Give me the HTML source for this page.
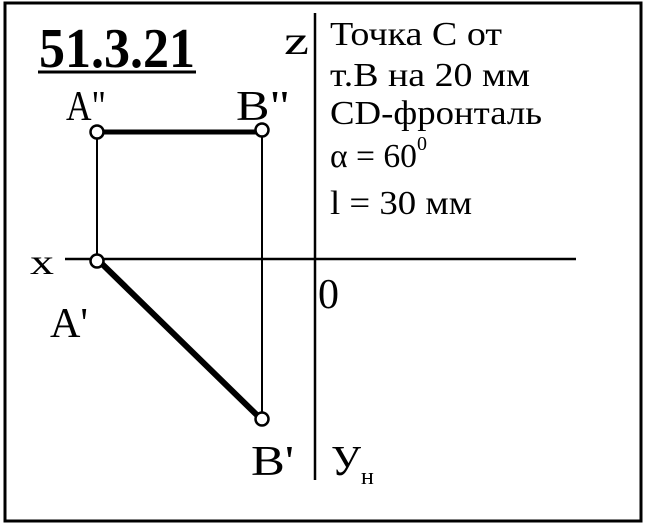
<!DOCTYPE html>
<html><head><meta charset="utf-8"><style>html,body{margin:0;padding:0;background:#fff}svg{display:block}text{font-family:"Liberation Serif","Times New Roman",serif}</style></head>
<body>
<svg width="647" height="528" viewBox="0 0 647 528" xmlns="http://www.w3.org/2000/svg" fill="#000">
<rect x="5" y="3" width="636" height="518" fill="none" stroke="#000" stroke-width="3"/>
<text x="39" y="67" font-size="56" font-weight="bold" textLength="156" lengthAdjust="spacingAndGlyphs">51.3.21</text>
<line x1="38" y1="72" x2="196" y2="72" stroke="#000" stroke-width="3"/>
<text x="284" y="54" font-size="40" textLength="25" lengthAdjust="spacingAndGlyphs">z</text>
<g font-size="34">
<text x="330" y="45" textLength="172" lengthAdjust="spacingAndGlyphs">Точка С от</text>
<text x="330" y="86" textLength="200" lengthAdjust="spacingAndGlyphs">т.В на 20 мм</text>
<text x="330" y="124" textLength="212" lengthAdjust="spacingAndGlyphs">CD-фронталь</text>
<text x="330" y="167" textLength="87" lengthAdjust="spacingAndGlyphs">α = 60</text>
<text x="417" y="150" font-size="20">0</text>
<text x="330" y="214" textLength="142" lengthAdjust="spacingAndGlyphs">l = 30 мм</text>
</g>
<line x1="315" y1="13" x2="315" y2="480" stroke="#000" stroke-width="2.5"/>
<line x1="65" y1="259" x2="576" y2="259" stroke="#000" stroke-width="2.5"/>
<line x1="97" y1="132" x2="97" y2="259" stroke="#000" stroke-width="2"/>
<line x1="262" y1="132" x2="262" y2="420" stroke="#000" stroke-width="2"/>
<line x1="97" y1="132" x2="262" y2="132" stroke="#000" stroke-width="5"/>
<line x1="97" y1="259" x2="262" y2="420" stroke="#000" stroke-width="6"/>
<g fill="#fff" stroke="#000" stroke-width="2.5">
<circle cx="97" cy="132" r="6.5"/><circle cx="262" cy="130" r="6.5"/>
<circle cx="97" cy="261" r="6.5"/><circle cx="262" cy="419" r="6.5"/>
</g>
<g font-size="42">
<text x="30" y="274" font-size="36" textLength="24" lengthAdjust="spacingAndGlyphs">x</text>
<text x="318" y="308">0</text>
<text x="66" y="120" textLength="40" lengthAdjust="spacingAndGlyphs">A"</text>
<text x="236" y="120" textLength="54" lengthAdjust="spacingAndGlyphs">B"</text>
<text x="50" y="337" textLength="38" lengthAdjust="spacingAndGlyphs">A'</text>
<text x="251" y="475" textLength="43" lengthAdjust="spacingAndGlyphs">B'</text>
<text x="331" y="475" textLength="30" lengthAdjust="spacingAndGlyphs">У</text>
<text x="361" y="484" font-size="24">н</text>
</g>
</svg>
</body></html>
